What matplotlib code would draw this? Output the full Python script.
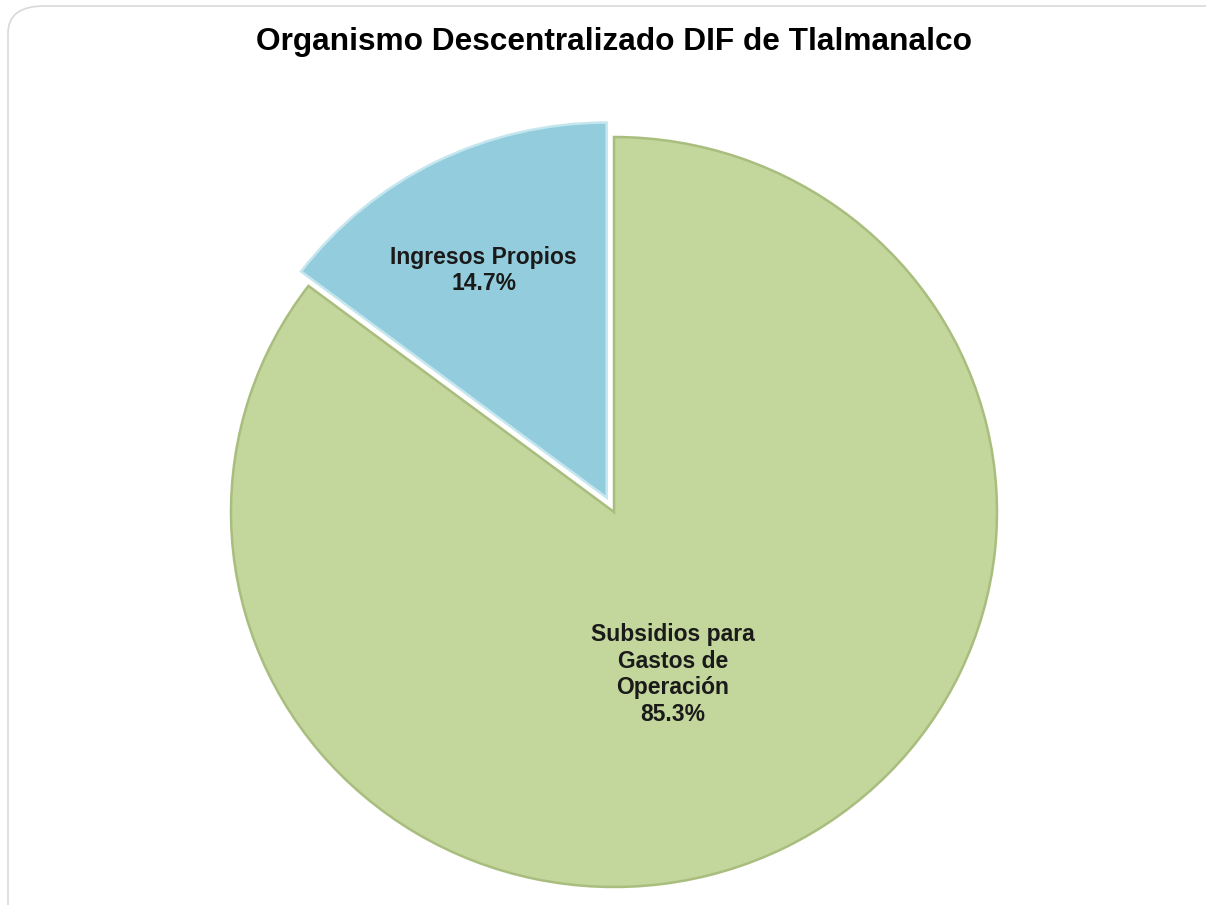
import numpy as np
import matplotlib.pyplot as plt
from matplotlib.patches import FancyBboxPatch

plt.rcParams['font.family'] = ['Liberation Sans', 'DejaVu Sans']

title = "Organismo Descentralizado DIF de Tlalmanalco"
labels = ["Ingresos Propios", "Subsidios para\nGastos de\nOperación"]
values = [14.7, 85.3]
colors = ["#93CDDD", "#C3D69B"]
edge_colors = ["#C4E6EE", "#A9BE7E"]
explode = [0.043, 0.0]
label_dist = [0.685, 0.46]
label_shift = [1.5, -7.0]   # degrees, small nudge from the bisector

W, H = 1206, 905
fig = plt.figure(figsize=(W / 100, H / 100), dpi=100)

# rounded light-gray frame, top-left corner at (8, 6) px
frame = FancyBboxPatch((8 / W, -0.2), 1.2, 1.2 - 6 / H, transform=fig.transFigure,
                       boxstyle="round,pad=0,rounding_size=0.03",
                       facecolor="white", edgecolor="#D9D9D9", linewidth=1.2,
                       zorder=-5)
fig.patches.append(frame)

# pie centre (614, 512) px, radii 383 x 375 px
cx, cy, rx, ry = 614, 512, 383, 375
lim = 1.1
ax = fig.add_axes([(cx - lim * rx) / W, (H - cy - lim * ry) / H,
                   2 * lim * rx / W, 2 * lim * ry / H])
ax.set_zorder(2)

wedges, _ = ax.pie(values, colors=colors, startangle=90, counterclock=True,
                   explode=explode,
                   wedgeprops=dict(linewidth=1.8))
for w, ec in zip(wedges, edge_colors):
    w.set_edgecolor(ec)

for i, w in enumerate(wedges):
    ang = np.deg2rad((w.theta1 + w.theta2) / 2 + label_shift[i])
    x0, y0 = w.center
    x = x0 + label_dist[i] * np.cos(ang)
    y = y0 + label_dist[i] * np.sin(ang)
    ax.text(x, y, "{0}\n{1:.1f}%".format(labels[i], values[i]),
            ha="center", va="center", fontsize=16.5, fontweight="bold",
            color="#1A1A1A", linespacing=1.2)

ax.set_aspect("auto")
ax.set_xlim(-lim, lim)
ax.set_ylim(-lim, lim)
ax.axis("off")

fig.text(613.5 / W, 1 - 42 / H, title, ha="center", va="center",
         fontsize=22.8, fontweight="bold", color="black", zorder=3)

plt.savefig("out.png", dpi=100)
plt.close("all")
